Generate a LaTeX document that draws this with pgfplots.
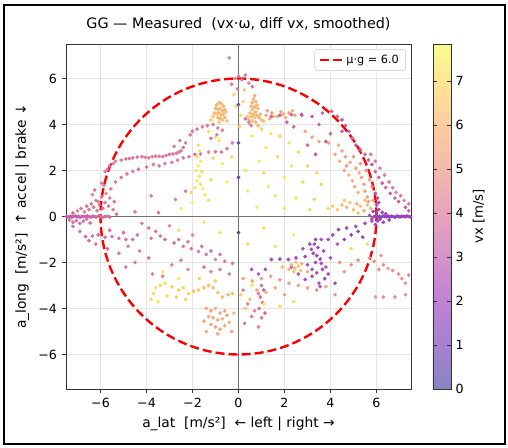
\documentclass[border=0pt]{standalone}
\usepackage{fontspec}
\setmainfont{DejaVu Sans}
\usepackage{pgfplots}
\pgfplotsset{compat=1.18}
\pgfplotsset{
 colormap={plasmamid}{rgb255=(74,70,165) rgb255=(113,67,182) rgb255=(144,64,190) rgb255=(171,74,187) rgb255=(197,95,172) rgb255=(217,117,154) rgb255=(233,139,137) rgb255=(245,163,120) rgb255=(253,188,104) rgb255=(253,218,92) rgb255=(244,251,89)},
 colormap={plasmalight}{rgb255=(134,132,195) rgb255=(160,130,206) rgb255=(181,128,212) rgb255=(199,134,210) rgb255=(216,149,200) rgb255=(230,163,188) rgb255=(240,178,177) rgb255=(249,194,165) rgb255=(254,211,155) rgb255=(254,231,146) rgb255=(248,252,144)},
}
\pgfplotstableread{
x y c
-7.48 0.00 3.1
-7.40 -0.02 3.2
-7.32 0.01 3.1
-7.25 -0.03 3.2
-7.18 0.00 3.3
-7.10 0.02 3.2
-7.02 -0.01 3.1
-6.95 0.00 3.2
-6.88 -0.04 3.3
-6.80 0.01 3.2
-6.72 0.00 3.3
-6.65 -0.02 3.4
-6.58 0.02 3.3
-6.50 0.00 3.2
-6.42 -0.03 3.4
-6.35 0.01 3.3
-6.28 0.00 3.5
-6.20 -0.02 3.4
-6.10 0.02 3.5
-6.00 0.00 3.6
-5.90 -0.03 3.7
-5.80 0.00 3.6
-5.70 0.01 3.8
-5.60 -0.02 3.7
-7.35 -0.15 3.5
-7.20 -0.25 3.6
-7.05 -0.18 3.5
-6.90 -0.30 3.7
-6.75 -0.20 3.6
-6.60 -0.12 3.8
-6.45 -0.28 3.7
-7.20 0.15 3.9
-7.00 0.25 4.0
-6.85 0.35 3.8
-6.70 0.20 4.1
-6.60 0.45 3.9
-6.50 0.30 4.0
-6.40 0.55 4.2
-6.30 0.40 3.9
-6.20 0.70 4.1
-6.15 0.25 4.0
-6.05 0.50 3.8
-5.95 0.85 4.2
-5.90 0.35 4.0
-5.80 0.60 4.1
-5.75 1.00 4.3
-5.65 0.45 3.9
-5.60 0.80 4.2
-5.55 1.20 4.0
-5.45 0.30 4.1
-5.40 0.65 3.9
-5.30 0.10 3.8
-6.35 0.95 4.2
-6.25 1.15 4.0
-5.85 1.35 4.1
5.90 0.00 1.9
5.98 0.03 1.8
6.05 -0.02 1.7
6.12 0.01 1.8
6.20 -0.03 1.6
6.28 0.02 1.7
6.35 0.00 1.8
6.42 -0.01 1.7
6.50 0.02 1.6
6.58 -0.02 1.7
6.65 0.01 1.8
6.72 0.00 1.7
6.80 -0.03 1.6
6.88 0.02 1.7
6.95 0.00 1.8
7.02 -0.02 1.7
7.10 0.01 1.6
7.18 0.00 1.7
7.25 -0.01 1.8
7.32 0.02 1.7
7.40 0.00 1.6
7.48 -0.02 1.7
6.00 0.15 2.0
6.05 -0.20 2.1
6.10 0.30 2.2
6.15 -0.12 1.9
5.95 -0.35 2.2
6.25 0.18 2.0
6.30 -0.25 2.1
5.85 0.22 2.3
5.80 -0.10 2.4
6.40 0.12 2.0
6.55 -0.15 2.1
5.70 0.05 2.5
6.00 0.50 2.2
6.05 0.80 2.4
5.95 1.00 2.6
6.10 0.60 2.0
-6.10 0.65 3.9
-5.95 1.45 4.0
-5.80 1.96 4.1
-5.60 2.20 3.9
-5.35 2.40 4.0
-5.10 2.45 4.2
-4.90 2.50 4.0
-4.60 2.55 4.1
-4.20 2.60 3.9
-3.90 2.55 4.1
-3.60 2.62 4.0
-3.30 2.60 4.2
-3.00 2.70 3.9
-2.70 2.75 4.1
-2.50 2.85 4.0
-2.30 3.20 4.2
-2.10 3.55 4.0
-2.00 3.70 4.1
-1.80 3.80 3.9
-1.57 3.90 4.2
-1.35 3.95 4.0
-1.10 4.00 4.1
-0.90 3.85 4.3
-0.70 3.75 4.1
-5.70 2.05 4.0
-5.45 2.30 4.1
-4.75 2.52 3.9
-4.40 2.58 4.0
-4.05 2.57 4.2
-3.75 2.60 4.0
-3.45 2.62 4.1
-3.15 2.65 3.9
-2.85 2.72 4.0
-2.60 2.80 4.2
-2.40 3.00 3.9
-5.35 1.50 4.1
-5.10 1.70 3.9
-4.85 1.85 4.0
-4.60 1.96 4.2
-4.35 2.05 3.9
-4.00 2.15 4.0
-3.70 2.26 4.1
-3.45 2.20 4.0
-3.20 2.30 3.9
-2.90 2.35 4.1
-2.65 2.45 4.2
-2.40 2.55 4.0
-2.15 2.60 4.1
-1.90 2.70 3.9
-1.65 2.72 4.0
-1.30 2.80 4.2
-1.00 2.82 4.1
-0.74 2.80 4.0
-0.50 2.95 3.9
-0.27 3.20 4.1
-3.48 0.17 4.0
-2.74 0.74 4.2
-2.30 1.10 4.1
-1.20 3.40 4.0
-0.95 3.55 3.8
-2.55 3.30 4.1
-2.80 3.05 3.9
-1.75 3.10 7.2
-1.70 2.85 7.4
-1.80 2.60 7.1
-1.65 2.40 7.3
-1.75 2.20 7.5
-1.85 2.00 7.2
-1.60 1.95 7.0
-1.70 1.75 7.4
-1.80 1.55 7.3
-1.65 1.40 7.1
-1.55 1.20 7.5
-1.90 1.25 7.2
-2.05 1.05 7.0
-1.45 0.95 7.3
-2.50 0.35 7.4
-2.00 0.60 7.6
-1.20 1.60 7.0
-1.30 0.70 7.2
-0.50 1.50 7.4
-0.30 2.60 7.0
-0.70 2.30 7.3
-1.10 2.55 6.9
-0.85 3.30 7.1
-1.30 3.70 7.2
-1.00 3.45 7.0
-0.95 4.85 6.0
-0.85 4.95 5.9
-0.75 4.90 6.1
-0.65 4.80 6.0
-1.00 4.70 5.8
-0.90 4.65 6.2
-0.80 4.70 6.0
-0.70 4.60 5.9
-0.60 4.65 6.1
-1.05 4.50 6.0
-0.95 4.45 6.3
-0.85 4.50 5.8
-0.75 4.40 6.1
-0.65 4.45 6.0
-0.55 4.55 6.2
-0.90 4.30 6.0
-0.80 4.25 5.9
-0.70 4.20 6.2
-1.10 4.35 6.4
-0.60 4.30 6.0
-0.50 4.15 6.3
-0.85 4.10 6.5
-1.20 4.20 6.6
0.70 5.25 5.8
0.65 5.10 5.9
0.75 5.00 6.0
0.60 4.95 5.9
0.80 4.85 6.1
0.55 4.80 6.0
0.70 4.75 5.8
0.85 4.70 6.0
0.60 4.65 6.2
0.75 4.55 5.9
0.50 4.50 6.0
0.65 4.45 6.1
0.80 4.40 5.8
0.55 4.35 6.0
0.70 4.30 6.2
0.90 4.30 5.9
0.45 4.20 6.0
0.60 4.15 6.1
0.75 4.10 5.9
0.40 4.35 6.3
0.95 4.45 6.0
1.00 4.20 6.2
0.50 4.00 6.1
0.85 3.95 6.0
0.45 4.10 4.0
0.30 4.25 3.8
0.55 3.95 4.2
1.20 4.40 5.7
1.45 4.50 5.5
1.70 4.35 5.8
1.95 4.45 5.6
2.20 4.50 5.4
2.45 4.40 5.7
1.10 4.15 6.2
1.35 4.25 5.9
1.25 4.60 5.3
1.55 4.35 6.1
1.85 4.55 5.5
2.05 4.30 6.0
2.35 4.60 5.6
-0.40 6.90 4.3
0.00 6.10 3.8
-0.15 6.00 4.0
0.15 5.95 3.9
0.30 6.15 4.1
0.45 5.80 4.2
-0.30 5.75 4.0
0.60 5.65 3.7
-0.05 5.55 4.2
0.25 5.50 6.5
-0.20 5.30 6.8
0.20 5.00 7.0
-0.10 4.80 6.9
0.10 4.40 7.2
0.05 3.90 6.9
0.00 4.87 0.6
0.00 3.20 0.5
0.00 1.70 0.7
0.00 -0.70 0.6
1.43 4.35 3.2
1.80 4.40 3.0
2.30 4.43 3.1
2.75 4.40 3.3
3.20 4.35 3.0
3.65 4.50 3.2
4.05 4.57 3.1
4.30 4.35 3.3
4.50 4.20 3.0
4.65 3.95 3.2
4.80 3.70 3.1
4.95 3.40 3.4
5.10 3.10 3.0
5.30 2.90 3.2
5.50 2.70 3.3
5.65 2.45 3.1
5.80 2.26 3.0
5.95 1.95 3.2
6.10 1.70 3.4
6.25 1.45 3.1
6.40 1.26 3.3
6.60 1.00 3.0
6.80 0.80 3.2
6.96 0.65 3.1
7.26 0.40 3.3
7.40 0.25 3.2
5.75 2.70 4.2
5.95 2.40 4.0
6.15 2.10 4.3
6.35 1.80 4.1
6.55 1.50 4.2
6.70 1.25 4.0
6.85 1.05 4.4
7.05 0.90 4.1
7.20 0.70 4.3
7.40 0.55 4.2
2.74 4.43 2.8
3.50 4.00 3.0
3.80 3.26 2.7
3.00 3.10 3.2
3.35 2.70 2.9
4.50 3.70 3.1
4.00 3.60 3.3
2.40 3.90 3.4
2.10 4.10 3.0
2.90 3.70 5.5
3.20 3.45 5.3
3.50 3.26 5.6
3.90 3.20 5.4
4.35 3.10 5.7
4.50 2.85 5.5
4.65 2.60 5.3
4.85 2.35 5.6
5.10 2.10 5.4
5.25 1.90 5.7
5.35 1.70 5.5
5.45 1.40 5.3
5.50 1.10 5.6
5.60 0.85 5.4
5.65 0.65 5.5
4.40 2.40 5.8
4.60 2.00 5.6
4.80 1.80 5.9
4.95 1.55 5.7
5.05 1.30 5.5
5.20 1.05 5.8
4.20 2.70 5.4
4.70 2.20 5.2
5.00 2.60 5.0
5.30 2.30 5.1
5.55 2.00 4.9
5.70 1.60 5.0
5.80 1.30 4.8
4.50 0.50 6.3
4.70 0.40 6.1
4.85 0.60 6.4
5.00 0.30 6.2
5.15 0.55 6.0
5.30 0.45 6.3
5.45 0.25 6.1
5.60 0.50 6.4
5.75 0.35 6.0
5.85 0.70 5.8
4.30 0.30 6.6
4.10 0.45 6.8
3.90 0.35 7.0
5.20 0.15 6.5
5.50 0.70 6.2
4.60 0.70 6.5
0.60 3.50 7.2
1.00 3.80 6.9
1.40 3.60 7.3
1.80 3.50 6.8
2.20 3.20 7.1
1.20 3.00 7.4
2.60 2.80 7.0
1.70 2.60 6.9
0.90 2.40 7.3
2.30 2.20 7.2
3.00 2.20 6.8
3.40 1.90 7.0
2.00 1.70 7.3
2.80 1.50 7.1
3.60 1.40 6.9
1.30 1.30 7.2
0.40 1.10 7.4
1.60 0.90 7.0
2.50 0.80 7.3
3.30 0.75 6.8
0.80 0.40 7.5
2.00 0.35 7.1
3.10 0.30 7.0
0.30 2.00 7.2
1.10 1.90 6.8
-7.20 -0.43 3.6
-6.90 -0.65 3.7
-6.65 -0.87 3.5
-6.35 -0.85 3.8
-6.10 -0.80 3.6
-5.80 -0.90 3.7
-5.50 -0.87 3.9
-5.20 -0.95 3.6
-4.90 -1.00 3.8
-4.60 -1.00 3.7
-4.20 -0.30 4.0
-3.90 -0.50 3.9
-3.60 -0.65 3.8
-3.40 -0.85 4.0
-3.20 -1.00 3.7
-2.80 -1.15 3.9
-2.40 -1.30 4.1
-2.05 -1.40 3.8
-1.74 -1.52 4.0
-1.40 -1.65 3.9
-1.00 -1.87 4.1
-0.60 -1.95 3.8
-0.26 -2.04 4.0
-5.60 -0.60 3.6
-5.00 -0.70 3.8
-4.40 -0.80 3.7
-3.80 -0.95 3.9
-2.60 -1.00 4.0
-2.20 -1.10 4.1
-1.60 -1.30 3.9
-1.20 -1.50 4.1
-0.80 -1.65 4.0
-5.20 -1.60 3.9
-4.90 -2.20 4.1
-4.50 -2.00 3.8
-4.80 -1.30 4.0
-4.30 -1.50 4.2
-3.74 -2.50 4.0
-3.30 -2.60 4.2
-3.90 -1.80 3.9
-2.90 -2.10 4.3
-2.50 -1.90 4.0
-2.20 -2.30 4.4
-1.50 -2.20 4.1
-1.20 -2.40 4.3
-0.80 -2.30 4.0
-0.40 -2.50 4.2
-6.20 -1.20 3.8
-5.70 -1.40 3.6
-6.50 -1.05 3.7
-2.00 -0.80 4.5
-3.00 -0.40 4.6
-3.80 -3.60 7.0
-3.70 -3.35 6.8
-3.60 -3.10 7.2
-3.40 -3.00 6.9
-3.20 -2.90 7.1
-2.90 -3.05 6.7
-2.60 -3.20 6.5
-2.40 -3.10 6.8
-2.17 -3.35 6.6
-1.95 -3.25 6.4
-1.74 -3.20 6.5
-1.50 -3.10 6.2
-1.30 -3.00 6.3
-1.10 -3.10 6.1
-0.90 -3.30 6.4
-0.70 -3.50 6.2
-0.45 -3.40 6.0
-0.26 -3.35 6.3
-3.50 -3.70 7.3
-3.10 -3.45 7.0
-2.70 -3.50 6.9
-2.30 -3.60 6.7
-3.30 -2.40 7.4
-2.60 -2.70 7.2
-1.70 -2.70 6.8
-1.00 -2.80 6.6
-1.40 -4.00 5.6
-1.20 -4.10 5.5
-1.00 -4.00 5.8
-0.80 -4.20 5.6
-0.60 -4.10 5.4
-1.30 -4.35 5.7
-1.10 -4.40 5.5
-0.90 -4.50 5.6
-0.70 -4.45 5.8
-0.50 -4.30 5.5
-1.20 -4.70 5.6
-1.00 -4.80 5.4
-0.80 -4.90 5.7
-0.60 -4.75 5.6
-0.40 -4.60 5.8
-1.40 -5.00 5.5
-0.90 -5.10 5.3
-0.30 -5.00 5.6
-1.50 -4.55 5.7
-0.20 -4.20 6.0
5.80 -0.20 2.0
5.50 -0.30 2.2
5.10 -0.43 2.1
4.70 -0.50 2.3
4.35 -0.57 2.0
4.10 -0.80 2.2
3.90 -1.00 2.1
3.60 -1.00 2.3
3.35 -1.00 2.0
3.17 -1.43 2.2
2.90 -1.74 2.1
2.50 -1.80 2.4
2.17 -1.87 2.2
1.80 -1.85 2.3
1.43 -1.87 2.1
1.17 -2.30 2.4
0.87 -2.50 2.2
0.57 -2.30 2.5
3.60 -2.04 2.3
3.90 -2.50 2.2
4.20 -2.90 2.4
3.50 -2.90 2.5
2.90 -2.74 2.3
3.20 -2.30 2.1
3.40 -1.70 2.2
3.70 -1.50 2.0
3.00 -2.10 2.4
2.60 -2.50 2.6
2.30 -2.20 2.5
4.00 -1.80 2.3
3.80 -2.20 2.6
4.30 -1.20 2.4
3.10 -1.20 2.3
2.80 -1.40 2.5
4.90 -0.80 1.6
5.20 -0.65 1.8
5.40 -0.90 1.9
4.60 -1.00 2.0
3.30 -1.20 2.0
3.45 -1.35 2.2
3.25 -1.60 2.1
3.55 -1.85 2.4
3.35 -2.00 2.3
3.65 -2.30 2.2
3.40 -2.45 2.5
3.75 -2.70 2.3
3.20 -2.60 2.4
3.55 -3.05 2.6
1.00 -3.00 3.5
1.10 -3.20 3.3
0.95 -3.50 3.6
1.05 -3.75 3.4
0.90 -4.00 3.7
1.15 -4.20 3.5
2.30 -2.10 6.2
2.45 -2.25 6.0
2.60 -2.15 6.4
2.50 -2.00 6.1
2.70 -2.35 6.3
2.40 -2.40 6.5
2.20 -2.30 6.0
2.75 -2.05 5.9
3.00 -2.40 5.8
1.90 -2.20 6.3
0.20 -2.70 5.3
0.60 -2.80 5.5
1.00 -2.70 5.2
1.40 -2.60 5.4
1.80 -2.75 5.1
2.20 -2.90 5.3
2.60 -3.00 5.5
3.00 -3.10 5.2
3.40 -3.20 5.0
3.80 -3.05 5.3
4.20 -3.40 5.1
1.60 -3.10 5.6
1.20 -3.30 5.8
0.80 -3.20 5.4
2.00 -3.40 5.2
4.60 -2.40 5.0
4.90 -2.10 4.8
5.20 -1.90 4.9
4.40 -2.00 5.1
5.70 -1.80 4.9
6.10 -2.30 4.8
6.30 -2.10 4.7
6.50 -2.26 5.0
6.70 -2.35 4.8
6.96 -2.50 4.7
7.10 -2.70 4.9
7.26 -2.90 4.8
7.40 -2.55 4.6
5.96 -3.50 4.9
6.30 -3.50 4.8
6.80 -3.50 5.0
7.26 -3.40 4.7
5.90 -1.95 5.1
6.20 -1.70 4.8
0.87 -3.35 4.3
0.87 -4.80 4.2
0.57 -4.35 4.4
0.26 -4.65 4.1
0.40 -3.80 4.3
0.70 -4.10 4.2
0.20 -3.20 4.4
1.00 -4.40 4.0
0.50 -3.60 6.3
0.30 -4.00 6.5
0.10 -3.40 6.8
1.10 -0.50 7.2
0.40 -1.20 7.0
2.40 -0.80 7.3
1.60 -1.30 7.1
4.90 -1.40 7.0
5.60 -1.20 7.2
1.10 -3.80 7.4
2.40 -3.70 7.1
1.80 -3.90 7.0
0.60 -3.00 7.3
-1.50 -0.25 7.3
-0.80 -0.70 7.1
-2.60 -0.60 7.0
-3.80 0.90 4.2
-4.50 0.20 4.3
}\gg
\newcommand{\fs}[1]{\fontsize{#1}{#1}\selectfont}
\begin{document}
\begin{tikzpicture}
\begin{axis}[
 scale only axis, width=258.75bp, height=258.75bp,
 xmin=-7.5, xmax=7.5, ymin=-7.5, ymax=7.5,
 xtick={-6,-4,-2,0,2,4,6}, xticklabels={−6,−4,−2,0,2,4,6},
 ytick={-6,-4,-2,0,2,4,6}, yticklabels={−6,−4,−2,0,2,4,6},
 tick pos=left, tick align=outside, major tick length=3.3bp,
 tick style={black!80, line width=0.6bp},
 grid=major, grid style={black!10, line width=0.6bp},
 axis line style={black!80, line width=0.6bp},
 ticklabel style={font=\fs{9.5}},
 label style={font=\fs{10.4}},
 title style={font=\fs{10.8}, yshift=1bp},
 title={GG — Measured\ \ (vx·ω, diff vx, smoothed)},
 xlabel={a\_lat\ \ [m/s²]\ \ ← left | right →},
 ylabel={a\_long\ \ [m/s²]\ \ ↑ accel | brake ↓},
 colormap name=plasmalight,
 point meta min=0, point meta max=7.84,
 colorbar,
 colorbar style={
   at={(parent axis.north east)}, anchor=north west, xshift=8bp,
   scale only axis, width=13.5bp, height=258.75bp,
   ytick={0,1,2,3,4,5,6,7}, yticklabels={0,1,2,3,4,5,6,7},
   yticklabel style={font=\fs{9.5}},
   ylabel={vx [m/s]}, ylabel style={font=\fs{10}},
   major tick length=3.3bp, tick style={black!80, line width=0.6bp},
   axis line style={black!80, line width=0.6bp},
 },
 legend style={at={(0.985,0.985)}, anchor=north east, draw=black!20, rounded corners=2bp, font=\fs{8.5}, inner xsep=3bp, inner ysep=2bp},
 legend cell align=left,
]
\addplot[black!55, line width=0.7bp, forget plot] coordinates {(-7.5,0) (7.5,0)};
\addplot[black!55, line width=0.7bp, forget plot] coordinates {(0,-7.5) (0,7.5)};
\addplot[scatter, only marks, mark=*, mark size=1.3bp, scatter src=explicit,
  colormap name=plasmamid,
  scatter/use mapped color={draw=mapped color, fill=mapped color},
  mark options={line width=0.2bp}, forget plot]
  table[x=x, y=y, meta=c] {\gg};
\addplot[red, line width=1.8bp, dash pattern=on 6.8bp off 3bp, domain=0:360, samples=181] ({6*cos(x)},{6*sin(x)});
\addlegendentry{μ·g = 6.0}
\end{axis}
\pgfresetboundingbox
\path[use as bounding box] (-49.5bp,-44.25bp) rectangle (331.5bp,291.75bp);
\draw[black, line width=1.3bp] (-46.5bp,-41.25bp) rectangle (329.25bp,288bp);
\end{tikzpicture}
\end{document}
